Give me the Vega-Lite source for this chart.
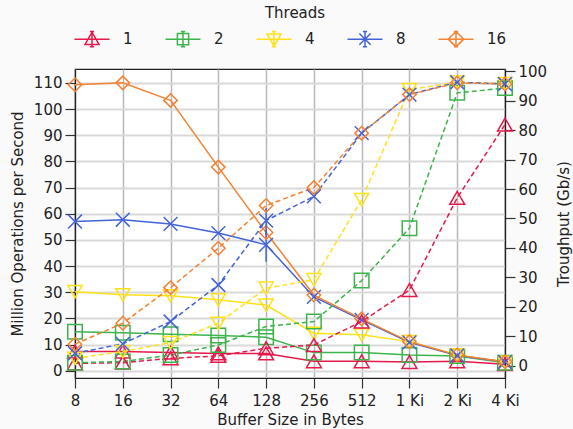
{
  "$schema": "https://vega.github.io/schema/vega-lite/v6.json",
  "width": 430,
  "height": 309,
  "autosize": {"type": "none"},
  "padding": {"left": 75, "top": 69, "right": 68, "bottom": 51},
  "background": "#fafafa",
  "config": {
    "font": "DejaVu Sans",
    "view": {"fill": "white", "stroke": "#222222", "strokeWidth": 1.2},
    "axis": {
      "labelFont": "DejaVu Sans", "labelFontSize": 15, "labelColor": "#222222",
      "titleFont": "DejaVu Sans", "titleFontSize": 15, "titleFontWeight": "normal", "titleColor": "#222222",
      "tickColor": "#333333", "tickSize": 10, "tickWidth": 1.2,
      "domainColor": "#222222", "domainWidth": 1.2, "labelPadding": 3
    },
    "legend": {
      "labelFont": "DejaVu Sans", "labelFontSize": 15, "labelColor": "#222222",
      "titleFont": "DejaVu Sans", "titleFontSize": 15, "titleFontWeight": "normal", "titleColor": "#222222"
    }
  },
  "data": {"values": [
    {"bytes": 8, "threads": "1", "ops": 7.3, "tput": 0.8},
    {"bytes": 16, "threads": "1", "ops": 7.3, "tput": 1.0},
    {"bytes": 32, "threads": "1", "ops": 6.9, "tput": 2.5},
    {"bytes": 64, "threads": "1", "ops": 6.6, "tput": 3.3},
    {"bytes": 128, "threads": "1", "ops": 6.6, "tput": 5.9},
    {"bytes": 256, "threads": "1", "ops": 3.6, "tput": 7.0},
    {"bytes": 512, "threads": "1", "ops": 3.6, "tput": 15.0},
    {"bytes": 1024, "threads": "1", "ops": 3.3, "tput": 25.7},
    {"bytes": 2048, "threads": "1", "ops": 3.6, "tput": 57.0},
    {"bytes": 4096, "threads": "1", "ops": 2.5, "tput": 81.9},
    {"bytes": 8, "threads": "2", "ops": 14.9, "tput": 1.0},
    {"bytes": 16, "threads": "2", "ops": 14.5, "tput": 1.4},
    {"bytes": 32, "threads": "2", "ops": 13.9, "tput": 3.6},
    {"bytes": 64, "threads": "2", "ops": 13.4, "tput": 7.0},
    {"bytes": 128, "threads": "2", "ops": 12.8, "tput": 13.3},
    {"bytes": 256, "threads": "2", "ops": 6.9, "tput": 15.0},
    {"bytes": 512, "threads": "2", "ops": 6.9, "tput": 28.9},
    {"bytes": 1024, "threads": "2", "ops": 6.0, "tput": 46.7},
    {"bytes": 2048, "threads": "2", "ops": 5.6, "tput": 92.7},
    {"bytes": 4096, "threads": "2", "ops": 3.0, "tput": 94.3},
    {"bytes": 8, "threads": "4", "ops": 30.2, "tput": 2.5},
    {"bytes": 16, "threads": "4", "ops": 29.0, "tput": 4.8},
    {"bytes": 32, "threads": "4", "ops": 28.6, "tput": 7.8},
    {"bytes": 64, "threads": "4", "ops": 27.1, "tput": 14.4},
    {"bytes": 128, "threads": "4", "ops": 25.1, "tput": 26.3},
    {"bytes": 256, "threads": "4", "ops": 14.3, "tput": 29.2},
    {"bytes": 512, "threads": "4", "ops": 13.7, "tput": 56.4},
    {"bytes": 1024, "threads": "4", "ops": 11.1, "tput": 93.8},
    {"bytes": 2048, "threads": "4", "ops": 6.0, "tput": 96.3},
    {"bytes": 4096, "threads": "4", "ops": 3.2, "tput": 95.8},
    {"bytes": 8, "threads": "8", "ops": 57.0, "tput": 4.2},
    {"bytes": 16, "threads": "8", "ops": 57.7, "tput": 7.4},
    {"bytes": 32, "threads": "8", "ops": 56.1, "tput": 15.0},
    {"bytes": 64, "threads": "8", "ops": 52.6, "tput": 27.4},
    {"bytes": 128, "threads": "8", "ops": 48.1, "tput": 49.3, "opsLo": 41.6, "opsHi": 53.8, "tputLo": 44.5, "tputHi": 53.6},
    {"bytes": 256, "threads": "8", "ops": 28.2, "tput": 57.5},
    {"bytes": 512, "threads": "8", "ops": 19.4, "tput": 79.0},
    {"bytes": 1024, "threads": "8", "ops": 10.8, "tput": 92.1},
    {"bytes": 2048, "threads": "8", "ops": 5.8, "tput": 96.3},
    {"bytes": 4096, "threads": "8", "ops": 3.3, "tput": 95.7},
    {"bytes": 8, "threads": "16", "ops": 109.3, "tput": 7.3},
    {"bytes": 16, "threads": "16", "ops": 110.0, "tput": 14.4},
    {"bytes": 32, "threads": "16", "ops": 103.3, "tput": 26.5},
    {"bytes": 64, "threads": "16", "ops": 77.8, "tput": 39.9},
    {"bytes": 128, "threads": "16", "ops": 52.8, "tput": 54.4},
    {"bytes": 256, "threads": "16", "ops": 28.9, "tput": 60.5},
    {"bytes": 512, "threads": "16", "ops": 19.8, "tput": 79.0},
    {"bytes": 1024, "threads": "16", "ops": 11.1, "tput": 92.1},
    {"bytes": 2048, "threads": "16", "ops": 6.0, "tput": 96.1},
    {"bytes": 4096, "threads": "16", "ops": 3.4, "tput": 95.7}
  ]},
  "encoding": {
    "x": {
      "field": "bytes", "type": "quantitative",
      "scale": {"type": "log", "base": 2, "domain": [8, 4096], "nice": false},
      "axis": {
        "values": [8, 16, 32, 64, 128, 256, 512, 1024, 2048, 4096],
        "labelExpr": "datum.value >= 1024 ? (datum.value / 1024) + ' Ki' : '' + datum.value",
        "grid": true, "gridColor": "#b8b8b8", "gridWidth": 1.5,
        "labelFlush": false, "labelOverlap": false, "labelPadding": 5,
        "title": "Buffer Size in Bytes", "titlePadding": 4
      }
    },
    "color": {
      "field": "threads", "type": "nominal",
      "scale": {"domain": ["1", "2", "4", "8", "16"], "range": ["#e6194b", "#3cb44b", "#ffe119", "#4363d8", "#f58231"]},
      "legend": null
    }
  },
  "layer": [
    {
      "layer": [
        {
          "mark": {"type": "line", "strokeWidth": 1.5},
          "encoding": {
            "y": {"field": "ops", "type": "quantitative",
              "scale": {"domain": [-2.8, 115.3], "nice": false, "zero": false},
              "axis": {"values": [0, 10, 20, 30, 40, 50, 60, 70, 80, 90, 100, 110], "grid": true, "gridColor": "#d9d9d9", "gridWidth": 2, "title": "Million Operations per Second", "titlePadding": 8}}
          }
        },
        {
          "transform": [{"filter": "isValid(datum.opsLo)"}],
          "mark": {"type": "rule", "strokeWidth": 1.5},
          "encoding": {
            "y": {"field": "opsLo", "type": "quantitative", "scale": {"domain": [-2.8, 115.3], "nice": false, "zero": false}, "axis": {"values": [0, 10, 20, 30, 40, 50, 60, 70, 80, 90, 100, 110], "grid": true, "gridColor": "#d9d9d9", "gridWidth": 2, "title": "Million Operations per Second", "titlePadding": 8}},
            "y2": {"field": "opsHi"}
          }
        },
        {
          "mark": {"type": "point", "filled": false, "strokeWidth": 1.5, "opacity": 1},
          "encoding": {
            "y": {"field": "ops", "type": "quantitative", "scale": {"domain": [-2.8, 115.3], "nice": false, "zero": false}, "axis": {"values": [0, 10, 20, 30, 40, 50, 60, 70, 80, 90, 100, 110], "grid": true, "gridColor": "#d9d9d9", "gridWidth": 2, "title": "Million Operations per Second", "titlePadding": 8}},
            "shape": {"field": "threads", "type": "nominal", "scale": {"domain": ["1", "2", "4", "8", "16"], "range": ["triangle-up", "square", "triangle-down", "M-1,-1L1,1M-1,1L1,-1", "diamond"]}, "legend": null},
            "size": {"field": "threads", "type": "nominal", "scale": {"domain": ["1", "2", "4", "8", "16"], "range": [220, 180, 220, 160, 380]}, "legend": null}
          }
        }
      ]
    },
    {
      "layer": [
        {
          "mark": {"type": "line", "strokeWidth": 1.5, "strokeDash": [5, 3]},
          "encoding": {
            "y": {"field": "tput", "type": "quantitative",
              "scale": {"domain": [-4.2, 100.8], "nice": false, "zero": false},
              "axis": {"orient": "right", "values": [0, 10, 20, 30, 40, 50, 60, 70, 80, 90, 100], "grid": false, "title": "Troughput (Gb/s)", "titleAngle": -90, "titlePadding": 25}}
          }
        },
        {
          "transform": [{"filter": "isValid(datum.tputLo)"}],
          "mark": {"type": "rule", "strokeWidth": 1.5},
          "encoding": {
            "y": {"field": "tputLo", "type": "quantitative", "scale": {"domain": [-4.2, 100.8], "nice": false, "zero": false}, "axis": {"orient": "right", "values": [0, 10, 20, 30, 40, 50, 60, 70, 80, 90, 100], "grid": false, "title": "Troughput (Gb/s)", "titleAngle": -90, "titlePadding": 25}},
            "y2": {"field": "tputHi"}
          }
        },
        {
          "mark": {"type": "point", "filled": false, "strokeWidth": 1.5, "opacity": 1},
          "encoding": {
            "y": {"field": "tput", "type": "quantitative", "scale": {"domain": [-4.2, 100.8], "nice": false, "zero": false}, "axis": {"orient": "right", "values": [0, 10, 20, 30, 40, 50, 60, 70, 80, 90, 100], "grid": false, "title": "Troughput (Gb/s)", "titleAngle": -90, "titlePadding": 25}},
            "shape": {"field": "threads", "type": "nominal", "scale": {"domain": ["1", "2", "4", "8", "16"], "range": ["triangle-up", "square", "triangle-down", "M-1,-1L1,1M-1,1L1,-1", "diamond"]}, "legend": null},
            "size": {"field": "threads", "type": "nominal", "scale": {"domain": ["1", "2", "4", "8", "16"], "range": [220, 180, 220, 160, 380]}, "legend": null}
          }
        }
      ]
    },
    {
      "mark": {"type": "point", "filled": false, "strokeWidth": 1.5, "opacity": 0, "size": 196},
      "encoding": {
        "y": {"field": "ops", "type": "quantitative", "scale": {"domain": [-2.8, 115.3], "nice": false, "zero": false}, "axis": null},
        "color": {
          "field": "threads", "type": "nominal",
          "scale": {"domain": ["1", "2", "4", "8", "16"], "range": ["#e6194b", "#3cb44b", "#ffe119", "#4363d8", "#f58231"]},
          "legend": {
            "title": "Threads", "orient": "none", "direction": "horizontal", "columns": 5,
            "legendX": 9, "legendY": -63, "padding": 0,
            "titleAnchor": "middle", "titlePadding": 10,
            "gridAlign": "all", "columnPadding": 19, "labelOffset": 23, "symbolSize": 196,
            "symbolStrokeWidth": 1.5, "symbolOpacity": 1
          }
        },
        "shape": {
          "field": "threads", "type": "nominal",
          "scale": {"domain": ["1", "2", "4", "8", "16"], "range": [
            "M-2.5,0H2.5M0,-1L1,0.75L-1,0.75ZM0,-1.1V1.1M-0.3,-1.1H0.3M-0.3,1.1H0.3",
            "M-2.5,0H2.5M-0.8,-0.8H0.8V0.8H-0.8ZM0,-1.1V1.1M-0.3,-1.1H0.3M-0.3,1.1H0.3",
            "M-2.5,0H2.5M0,1L1,-0.75L-1,-0.75ZM0,-1.1V1.1M-0.3,-1.1H0.3M-0.3,1.1H0.3",
            "M-2.5,0H2.5M-0.8,-0.8L0.8,0.8M-0.8,0.8L0.8,-0.8M0,-1.1V1.1M-0.3,-1.1H0.3M-0.3,1.1H0.3",
            "M-2.5,0H2.5M0,-1.1L1.1,0L0,1.1L-1.1,0ZM0,-1.1V1.1M-0.3,-1.1H0.3M-0.3,1.1H0.3"
          ]},
          "legend": {
            "title": "Threads", "orient": "none", "direction": "horizontal", "columns": 5,
            "legendX": 9, "legendY": -63, "padding": 0,
            "titleAnchor": "middle", "titlePadding": 10,
            "gridAlign": "all", "columnPadding": 19, "labelOffset": 23, "symbolSize": 196,
            "symbolStrokeWidth": 1.5, "symbolOpacity": 1
          }
        }
      }
    }
  ],
  "resolve": {"scale": {"y": "independent", "shape": "independent", "color": "independent"}}
}
